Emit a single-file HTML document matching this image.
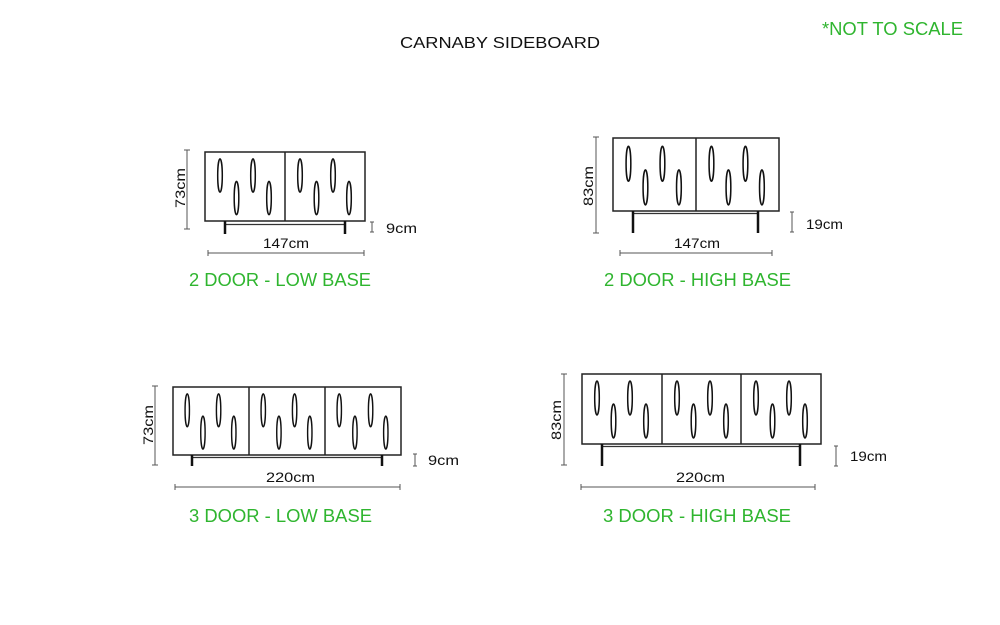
<!DOCTYPE html>
<html><head><meta charset="utf-8"><style>
html,body{margin:0;padding:0;background:#fff;}
svg{display:block;font-family:"Liberation Sans",sans-serif;}
.c{fill:#fff;stroke:#222;stroke-width:1.5}
.o{fill:#fff;stroke:#111;stroke-width:1.5}
.l{stroke:#111;stroke-width:2.5}
.r{stroke:#333;stroke-width:1.3}
.d{stroke:#555;stroke-width:1}
.t{font-size:14px;fill:#111}
.g{font-size:18px;fill:#2fb52f}
</style></head><body>
<svg width="1000" height="625" viewBox="0 0 1000 625">
<defs>
<g id="door">
<ellipse class="o" cx="15" cy="24" rx="2.3" ry="17"/>
<ellipse class="o" cx="31.5" cy="47" rx="2.3" ry="17"/>
<ellipse class="o" cx="48" cy="24" rx="2.3" ry="17"/>
<ellipse class="o" cx="64" cy="47" rx="2.3" ry="17"/>
</g>
</defs>
<text x="400" y="48" class="t" style="font-size:16px" textLength="200" lengthAdjust="spacingAndGlyphs">CARNABY SIDEBOARD</text>
<text x="822" y="35" class="g" textLength="141" lengthAdjust="spacingAndGlyphs">*NOT TO SCALE</text>

<!-- 2 door low -->
<rect class="c" x="205" y="152" width="160" height="69"/>
<line class="c" x1="285" y1="152" x2="285" y2="221"/>
<use href="#door" transform="translate(205,152) scale(1,0.98)"/>
<use href="#door" transform="translate(285,152) scale(1,0.98)"/>
<line class="r" x1="225" y1="224.5" x2="345" y2="224.5"/>
<line class="l" x1="225" y1="221" x2="225" y2="234"/>
<line class="l" x1="345" y1="221" x2="345" y2="234"/>
<line class="d" x1="187" y1="150" x2="187" y2="229"/><line class="d" x1="184" y1="150" x2="190" y2="150"/><line class="d" x1="184" y1="229" x2="190" y2="229"/>
<text class="t" transform="translate(185,208) rotate(-90)" textLength="40" lengthAdjust="spacingAndGlyphs">73cm</text>
<line class="d" x1="208" y1="253" x2="364" y2="253"/><line class="d" x1="208" y1="250" x2="208" y2="256"/><line class="d" x1="364" y1="250" x2="364" y2="256"/>
<text class="t" x="263" y="248" textLength="46" lengthAdjust="spacingAndGlyphs">147cm</text>
<line class="d" x1="372" y1="222" x2="372" y2="232"/><line class="d" x1="370" y1="222" x2="374" y2="222"/><line class="d" x1="370" y1="232" x2="374" y2="232"/>
<text class="t" x="386" y="233" textLength="31" lengthAdjust="spacingAndGlyphs">9cm</text>
<text class="g" x="189" y="286" textLength="182" lengthAdjust="spacingAndGlyphs">2 DOOR - LOW BASE</text>

<!-- 2 door high -->
<rect class="c" x="613" y="138" width="166" height="73"/>
<line class="c" x1="696" y1="138" x2="696" y2="211"/>
<use href="#door" transform="translate(613,139) scale(1.03,1.03)"/>
<use href="#door" transform="translate(696,139) scale(1.03,1.03)"/>
<line class="r" x1="633" y1="213.5" x2="758" y2="213.5"/>
<line class="l" x1="633" y1="211" x2="633" y2="233"/>
<line class="l" x1="758" y1="211" x2="758" y2="233"/>
<line class="d" x1="596" y1="137" x2="596" y2="233"/><line class="d" x1="593" y1="137" x2="599" y2="137"/><line class="d" x1="593" y1="233" x2="599" y2="233"/>
<text class="t" transform="translate(593,206) rotate(-90)" textLength="40" lengthAdjust="spacingAndGlyphs">83cm</text>
<line class="d" x1="620" y1="253" x2="772" y2="253"/><line class="d" x1="620" y1="250" x2="620" y2="256"/><line class="d" x1="772" y1="250" x2="772" y2="256"/>
<text class="t" x="674" y="248" textLength="46" lengthAdjust="spacingAndGlyphs">147cm</text>
<line class="d" x1="792" y1="212" x2="792" y2="232"/><line class="d" x1="790" y1="212" x2="794" y2="212"/><line class="d" x1="790" y1="232" x2="794" y2="232"/>
<text class="t" x="806" y="229" textLength="37" lengthAdjust="spacingAndGlyphs">19cm</text>
<text class="g" x="604" y="286" textLength="187" lengthAdjust="spacingAndGlyphs">2 DOOR - HIGH BASE</text>

<!-- 3 door low -->
<rect class="c" x="173" y="387" width="228" height="68"/>
<line class="c" x1="249" y1="387" x2="249" y2="455"/>
<line class="c" x1="325" y1="387" x2="325" y2="455"/>
<use href="#door" transform="translate(173,387) scale(0.95,0.97)"/>
<use href="#door" transform="translate(249,387) scale(0.95,0.97)"/>
<use href="#door" transform="translate(325,387) scale(0.95,0.97)"/>
<line class="r" x1="192" y1="457.5" x2="382" y2="457.5"/>
<line class="l" x1="192" y1="455" x2="192" y2="466"/>
<line class="l" x1="382" y1="455" x2="382" y2="466"/>
<line class="d" x1="155" y1="386" x2="155" y2="465"/><line class="d" x1="152" y1="386" x2="158" y2="386"/><line class="d" x1="152" y1="465" x2="158" y2="465"/>
<text class="t" transform="translate(153,445) rotate(-90)" textLength="40" lengthAdjust="spacingAndGlyphs">73cm</text>
<line class="d" x1="175" y1="487" x2="400" y2="487"/><line class="d" x1="175" y1="484" x2="175" y2="490"/><line class="d" x1="400" y1="484" x2="400" y2="490"/>
<text class="t" x="266" y="482" textLength="49" lengthAdjust="spacingAndGlyphs">220cm</text>
<line class="d" x1="415" y1="454" x2="415" y2="466"/><line class="d" x1="413" y1="454" x2="417" y2="454"/><line class="d" x1="413" y1="466" x2="417" y2="466"/>
<text class="t" x="428" y="465" textLength="31" lengthAdjust="spacingAndGlyphs">9cm</text>
<text class="g" x="189" y="522" textLength="183" lengthAdjust="spacingAndGlyphs">3 DOOR - LOW BASE</text>

<!-- 3 door high -->
<rect class="c" x="582" y="374" width="239" height="70"/>
<line class="c" x1="662" y1="374" x2="662" y2="444"/>
<line class="c" x1="741" y1="374" x2="741" y2="444"/>
<use href="#door" transform="translate(582,374)"/>
<use href="#door" transform="translate(662,374)"/>
<use href="#door" transform="translate(741,374)"/>
<line class="r" x1="602" y1="446.5" x2="800" y2="446.5"/>
<line class="l" x1="602" y1="444" x2="602" y2="466"/>
<line class="l" x1="800" y1="444" x2="800" y2="466"/>
<line class="d" x1="564" y1="374" x2="564" y2="465"/><line class="d" x1="561" y1="374" x2="567" y2="374"/><line class="d" x1="561" y1="465" x2="567" y2="465"/>
<text class="t" transform="translate(561,440) rotate(-90)" textLength="40" lengthAdjust="spacingAndGlyphs">83cm</text>
<line class="d" x1="581" y1="487" x2="815" y2="487"/><line class="d" x1="581" y1="484" x2="581" y2="490"/><line class="d" x1="815" y1="484" x2="815" y2="490"/>
<text class="t" x="676" y="482" textLength="49" lengthAdjust="spacingAndGlyphs">220cm</text>
<line class="d" x1="836" y1="446" x2="836" y2="466"/><line class="d" x1="834" y1="446" x2="838" y2="446"/><line class="d" x1="834" y1="466" x2="838" y2="466"/>
<text class="t" x="850" y="461" textLength="37" lengthAdjust="spacingAndGlyphs">19cm</text>
<text class="g" x="603" y="522" textLength="188" lengthAdjust="spacingAndGlyphs">3 DOOR - HIGH BASE</text>
</svg>
</body></html>
